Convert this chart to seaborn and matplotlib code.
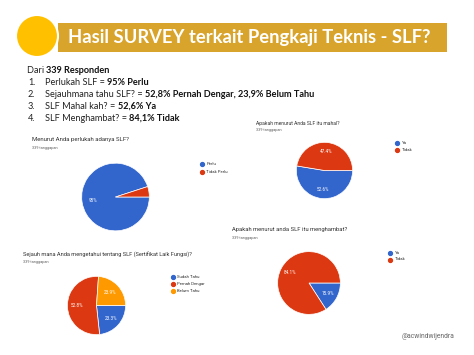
import matplotlib
matplotlib.use("Agg")
import matplotlib.pyplot as plt
import seaborn as sns
from matplotlib.patches import Rectangle, Ellipse
from matplotlib.lines import Line2D

# ---------------- data ----------------
slide_title = "Hasil SURVEY terkait Pengkaji Teknis - SLF?"
intro_normal = "Dari "
intro_bold = "339 Responden"
summary_nums = ["1.", "2.", "3.", "4."]
summary_normal = ["Perlukah SLF = ", "Sejauhmana tahu SLF? = ", "SLF Mahal kah? = ", "SLF Menghambat? = "]
summary_bold = ["95% Perlu", "52,8% Pernah Dengar, 23,9% Belum Tahu", "52,6% Ya", "84,1% Tidak"]

responses_text = "339 tanggapan"

q1_title = "Menurut Anda perlukah adanya SLF?"
q1_labels = ["Perlu", "Tidak Perlu"]
q1_values = [95.0, 5.0]

q2_title = "Sejauh mana Anda mengetahui tentang SLF (Sertifikat Laik Fungsi)?"
q2_labels = ["Sudah Tahu", "Pernah Dengar", "Belum Tahu"]
q2_values = [23.3, 52.8, 23.9]

q3_title = "Apakah menurut Anda SLF itu mahal?"
q3_labels = ["Ya", "Tidak"]
q3_values = [52.6, 47.4]

q4_title = "Apakah menurut anda SLF itu menghambat?"
q4_labels = ["Ya", "Tidak"]
q4_values = [15.9, 84.1]

watermark = "@acwindwijendra"

# ---------------- style ----------------
sns.set_theme(style="white")
plt.rcParams['font.family'] = ['Lato', 'DejaVu Sans']
palette = sns.color_palette(["#3366CC", "#DC3912", "#FF9900"])

W, H = 474, 355
fig = plt.figure(figsize=(W / 100, H / 100), dpi=100)
fig.patch.set_facecolor("white")


def fx(x):
    return x / W


def fy(y):
    return 1 - y / H


# ---------------- header ----------------
fig.add_artist(Rectangle((fx(58), fy(52)), (447 - 58) / W, 29 / H,
                         transform=fig.transFigure, facecolor="#D9A42B",
                         edgecolor="none"))
fig.add_artist(Ellipse((fx(37), fy(36)), 42 / W, 42 / H,
                       transform=fig.transFigure, facecolor="#FFC000",
                       edgecolor="white", linewidth=1.5))
fig.text(fx(68), fy(38), slide_title, color="white", fontsize=13.2,
         fontweight="bold", va="center", ha="left", family=["Lato", "DejaVu Sans"])

# ---------------- summary text ----------------
renderer = fig.canvas.get_renderer()
TS = 6.6


def mixed(x, y, normal, bold, size=TS):
    t = fig.text(fx(x), fy(y + 3), normal, fontsize=size, color="#222222",
                 va="baseline", ha="left")
    bb = t.get_window_extent(renderer=renderer)
    fig.text(bb.x1 / W, fy(y + 3), bold, fontsize=size, color="#111111",
             fontweight="bold", va="baseline", ha="left")


line_y = [70, 82, 94, 106, 118]
mixed(27, line_y[0], intro_normal, intro_bold)
for i in range(4):
    fig.text(fx(28), fy(line_y[i + 1] + 3), summary_nums[i], fontsize=TS,
             color="#222222", va="baseline", ha="left")
    mixed(45, line_y[i + 1], summary_normal[i], summary_bold[i])


# ---------------- pies ----------------
def fmt(p):
    if p < 10:
        return ""
    if abs(p - round(p)) < 0.05:
        return "%d%%" % round(p)
    return "%.1f%%" % p


def draw_pie(values, labels, title, cx, cy, r, tx, ty, tsize, lx, ly, lstep,
             pctdist=0.68):
    ax = fig.add_axes([fx(cx - r), fy(cy + r), 2 * r / W, 2 * r / H])
    cols = palette[:len(values)]
    ax.pie(values, colors=cols, startangle=0, counterclock=False,
           wedgeprops=dict(edgecolor="white", linewidth=0.5),
           autopct=fmt, pctdistance=pctdist,
           textprops=dict(color="white", fontsize=3.3, family="Roboto"))
    ax.set_xlim(-1.02, 1.02)
    ax.set_ylim(-1.02, 1.02)
    ax.set_aspect("equal")
    ax.axis("off")
    fig.text(fx(tx), fy(ty), title, fontsize=tsize, color="#333333",
             va="center", ha="left", family="Roboto")
    fig.text(fx(tx), fy(ty + 7.5), responses_text, fontsize=2.8,
             color="#666666", va="center", ha="left", family="Roboto")
    for i, lab in enumerate(labels):
        yy = ly + i * lstep
        fig.add_artist(Line2D([fx(lx)], [fy(yy)], marker="o", markersize=2.8,
                              color=cols[i], linestyle="none",
                              transform=fig.transFigure))
        fig.text(fx(lx + 4.5), fy(yy), lab, fontsize=3.1, color="#333333",
                 va="center", ha="left", family="Roboto")


draw_pie(q1_values, q1_labels, q1_title, 115.5, 197, 34.5, 32, 140, 4.3, 202, 164, 8)
draw_pie(q3_values, q3_labels, q3_title, 324.5, 170.5, 28.7, 256, 123, 3.6, 397, 143, 7)
draw_pie(q2_values, q2_labels, q2_title, 96.5, 305.5, 29.7, 23, 255, 4.1, 172.5, 277, 7, 0.66)
draw_pie(q4_values, q4_labels, q4_title, 309, 283, 32, 232, 230, 4.2, 390, 253, 6.5)

fig.text(fx(402), fy(337), watermark, fontsize=4.9, color="#666666",
         va="center", ha="left", family="Roboto")

fig.savefig("out.png", dpi=100, facecolor="white")
